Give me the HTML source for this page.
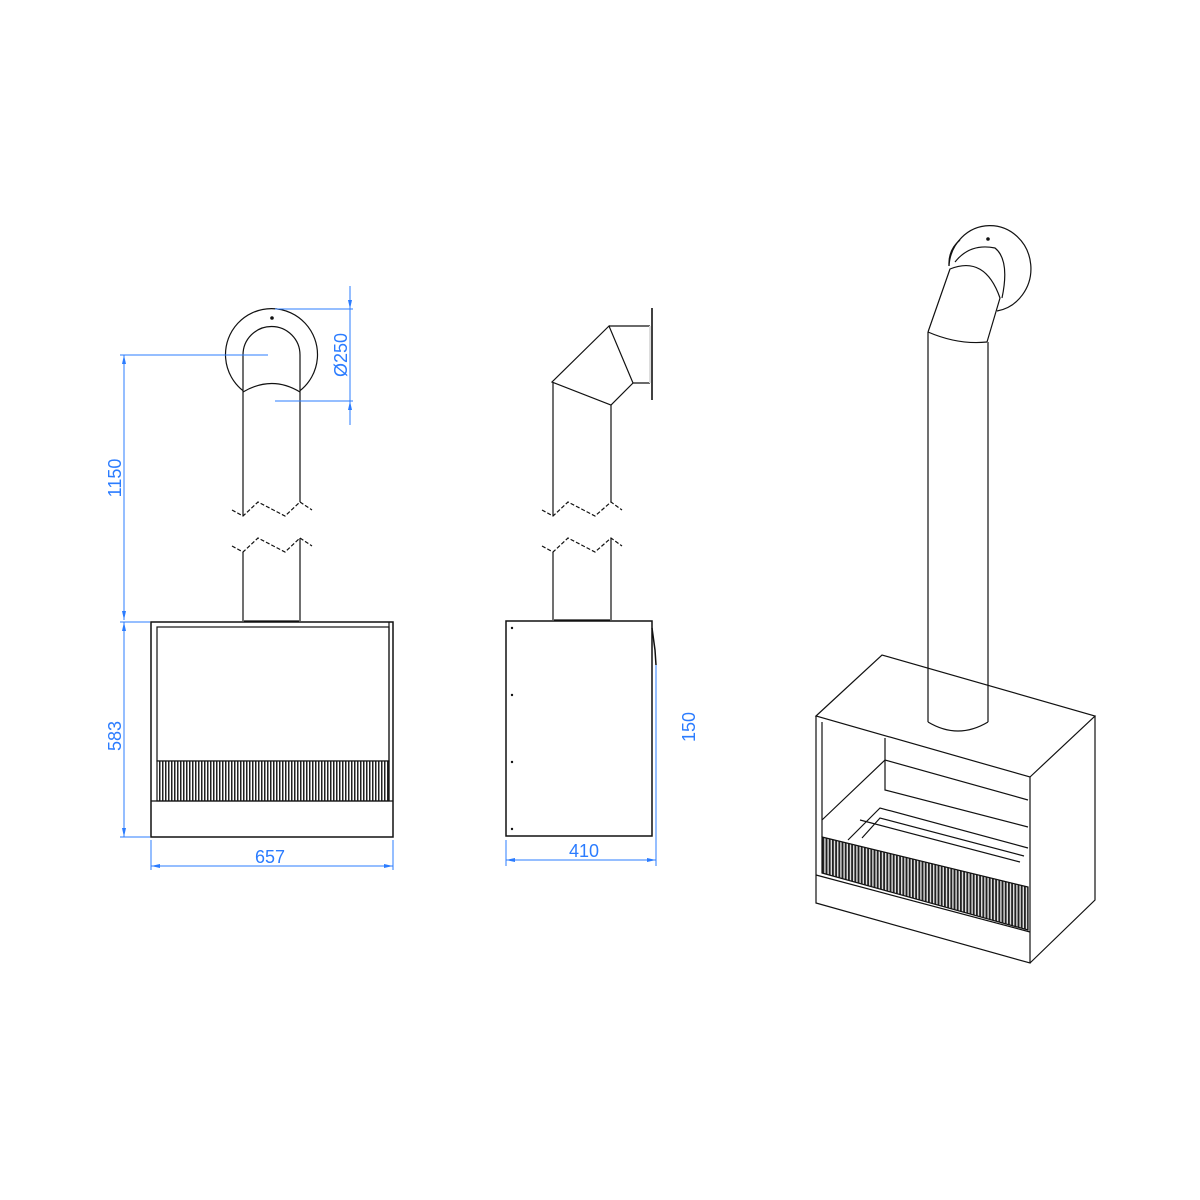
<!DOCTYPE html>
<html><head><meta charset="utf-8"><style>html,body{margin:0;padding:0;background:#fff}svg{display:block}</style></head>
<body>
<svg width="1200" height="1200" viewBox="0 0 1200 1200" xmlns="http://www.w3.org/2000/svg">
<defs>
<pattern id="gr" width="3" height="10" patternUnits="userSpaceOnUse"><rect width="3" height="10" fill="#fff"/><rect width="1.5" height="10" fill="#222"/></pattern>
<pattern id="gr2" width="3.2" height="10" patternUnits="userSpaceOnUse"><rect width="3.2" height="10" fill="#ddd"/><rect width="1.8" height="10" fill="#222"/></pattern>
</defs>
<g fill="none" stroke="#111" stroke-width="1.2">
<!-- FRONT VIEW -->
<path d="M243 390.7 A46 46 0 1 1 300 390.7"/>
<path d="M243 392 V355 A28.5 28.5 0 0 1 300 355 V392"/>
<path d="M243 392 Q272 375 300 392"/>
<circle cx="272" cy="318" r="1.2" fill="#111"/>
<path d="M243 392 V516 M300 392 V502"/>
<path d="M232 510 L243 516 L258 502 L285 516 L300 502 L312 510" stroke-dasharray="4,2"/>
<path d="M232 546 L243 552 L258 538 L285 552 L300 538 L312 546" stroke-dasharray="4,2"/>
<path d="M243 552 V621 M300 538 V621 M244 621 H299"/>
<rect x="151" y="622" width="242" height="215" stroke-width="1.5"/>
<rect x="157" y="627" width="232" height="134"/>
<rect x="157" y="761" width="232" height="40" fill="url(#gr)"/>
<line x1="151" y1="801" x2="393" y2="801"/>
<line x1="389" y1="622" x2="389" y2="801"/>
<!-- SIDE VIEW -->
<path d="M609 326 L552 382 L611 405 L633 383 Z"/>
<path d="M609 326 H650 M633 383 H650"/>
<rect x="649" y="326" width="2" height="57" fill="#ddd" stroke="none"/>
<path d="M652 308 V400" stroke-width="1.6"/>
<path d="M553 382 V516 M611 405 V502"/>
<path d="M542 510 L553 516 L568 502 L595 516 L611 502 L622 510" stroke-dasharray="4,2"/>
<path d="M542 546 L553 552 L568 538 L595 552 L611 538 L622 546" stroke-dasharray="4,2"/>
<path d="M553 552 V620 M611 538 V620 M554 620 H610"/>
<rect x="506" y="621" width="146" height="215" stroke-width="1.5"/>
<path d="M652 628 L655 650 L656 665" stroke-width="1.5"/>
<g fill="#111" stroke="none"><circle cx="512" cy="628" r="1.2"/><circle cx="512" cy="695" r="1.2"/><circle cx="512" cy="762" r="1.2"/><circle cx="512" cy="829" r="1.2"/></g>
<!-- 3D VIEW -->
<path d="M949 266 A41 43 0 1 1 997 311" />
<path d="M949 266 Q948 250 960 240"/>
<path d="M955 262 Q970 243 995 248 Q1010 260 1002 298"/>
<path d="M928 332 L950 269 Q985 255 1000 298 L987 342"/>
<path d="M928 332 Q958 345 987 342"/>
<circle cx="988" cy="239" r="1.2" fill="#111"/>
<path d="M928 332 V722 M988 342 V722"/>
<path d="M928 722 Q958 740 988 722"/>
<path d="M816 716 L882 655 L1095 716 L1030 777 Z" fill="none"/>
<path d="M816 716 V903 L1030 963 V777"/>
<path d="M1095 716 V900 L1030 963"/>
<path d="M822 722 V837 M885 738 V790 L1028 827"/>
<path d="M822 820 L885 760 L1028 800"/>
<path d="M848 840 L880 808 L1028 848 M862 838 L880 818 L1024 856 M860 820 L1020 862"/>
<path d="M822 837 L1028 887 L1028 930 L822 873 Z" fill="url(#gr2)"/>
<path d="M816 875 L1030 932"/>
</g>
<!-- DIMENSIONS -->
<g stroke="#2b7cff" stroke-width="1" fill="none">
<path d="M275 309 H353 M275 401 H353 M350 286 V425"/>
<path d="M120 355 H268 M124 355 V620 M120 622 H150 M124 622 V837 M120 837 H150"/>
<path d="M151 840 V870 M393 840 V870 M151 866 H393"/>
<path d="M506 840 V866 M656 665 V866 M506 860 H656"/>
</g>
<g fill="#2b7cff" stroke="none">
<path d="M350 309 l-2 -9 h4 z M350 401 l-2 9 h4 z"/>
<path d="M124 355 l-2 9 h4 z M124 620 l-2 -9 h4 z M124 622 l-2 9 h4 z M124 837 l-2 -9 h4 z"/>
<path d="M151 866 l9 -2 v4 z M393 866 l-9 -2 v4 z M506 860 l9 -2 v4 z M656 860 l-9 -2 v4 z"/>
</g>
<g font-family="Liberation Sans, sans-serif" font-size="18" fill="#2b7cff">
<text transform="translate(347 355) rotate(-90)" text-anchor="middle">Ø250</text>
<text transform="translate(121 478) rotate(-90)" text-anchor="middle">1150</text>
<text transform="translate(121 736) rotate(-90)" text-anchor="middle">583</text>
<text transform="translate(695 727) rotate(-90)" text-anchor="middle">150</text>
<text x="270" y="863" text-anchor="middle">657</text>
<text x="584" y="857" text-anchor="middle">410</text>
</g>
</svg>
</body></html>
